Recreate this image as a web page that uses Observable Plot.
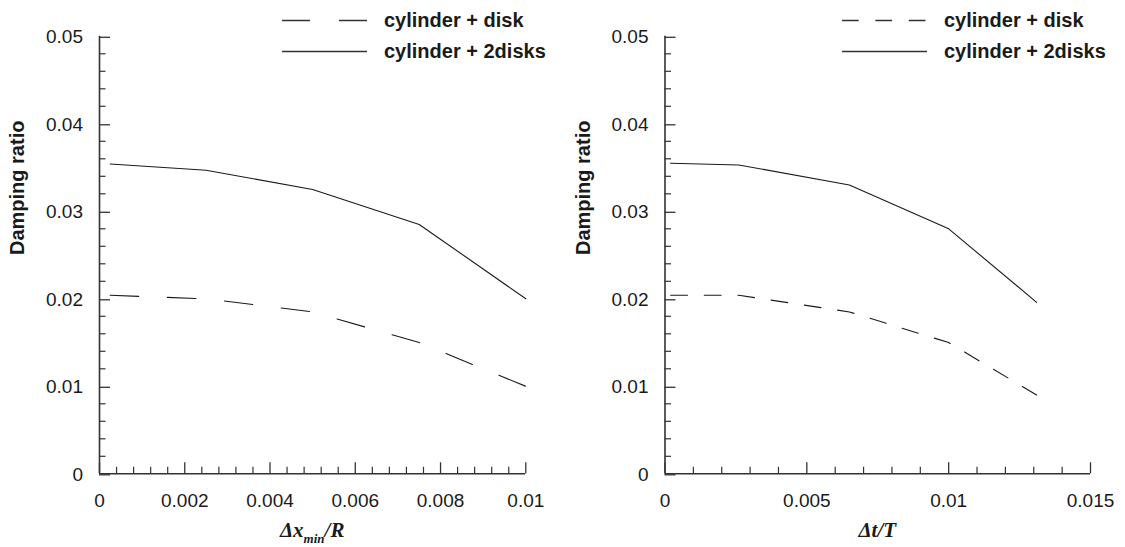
<!DOCTYPE html>
<html><head><meta charset="utf-8">
<script src="https://cdn.jsdelivr.net/npm/d3@7"></script>
<script src="https://cdn.jsdelivr.net/npm/@observablehq/plot@0.6"></script>
<style>
body{margin:0;background:#fff;}
#wrap{display:flex;width:1125px;height:547px;overflow:hidden;}
</style></head><body><div id="wrap"></div>
<script>
// ---- Data ----
const seriesNames = ["cylinder + disk", "cylinder + 2disks"];
const yLabel = "Damping ratio";

// Left panel: grid resolution Δx_min/R
const gridX      = [0.00025, 0.0025, 0.005, 0.0075, 0.01];
const gridDisk   = [0.0204, 0.0200, 0.0185, 0.0150, 0.0100];
const grid2Disks = [0.0354, 0.0347, 0.0325, 0.0285, 0.0200];

// Right panel: time step Δt/T
const stepX      = [0.0002, 0.0026, 0.0065, 0.0100, 0.0131];
const stepDisk   = [0.0204, 0.0204, 0.0185, 0.0150, 0.0090];
const step2Disks = [0.0355, 0.0353, 0.0330, 0.0280, 0.0196];

// Tick values
const yMajor = [0, 0.01, 0.02, 0.03, 0.04, 0.05];
const leftXMajor = [0, 0.002, 0.004, 0.006, 0.008, 0.01];
const rightXMajor = [0, 0.005, 0.01, 0.015];

const yMinor = d3.range(0, 26).map(i => i * 0.002).filter(v => !yMajor.some(m => Math.abs(m - v) < 1e-9));
const leftXMinor = d3.range(0, 26).map(i => i * 0.0004).filter(v => !leftXMajor.some(m => Math.abs(m - v) < 1e-9));
const rightXMinor = d3.range(0, 16).map(i => i * 0.001).filter(v => !rightXMajor.some(m => Math.abs(m - v) < 1e-9));

const SANS = "'Liberation Sans', Arial, Helvetica, sans-serif";
const SERIF = "'Liberation Serif', 'Times New Roman', serif";
const INK = "#1a1a1a";
const AXIS = "#333";

function panel({width, marginLeft, marginRight, xs, disk, two, xDomain, xMajor, xMinor, dash, legendDash, titleParts}) {
  const rowsDisk = xs.map((x, i) => ({x, y: disk[i]}));
  const rowsTwo = xs.map((x, i) => ({x, y: two[i]}));
  const chart = Plot.plot({
    width, height: 547,
    marginTop: 35.8, marginBottom: 73.7, marginLeft, marginRight,
    x: {domain: xDomain},
    y: {domain: [0, 0.05]},
    style: {fontFamily: SANS, fontSize: "19px", color: INK, background: "white", overflow: "visible"},
    marks: [
      Plot.axisY(yMinor, {tickSize: -6.5, tickFormat: () => "", label: null, stroke: AXIS, strokeWidth: 1.2}),
      Plot.axisY(yMajor, {tickSize: -11, tickPadding: 27.5, tickFormat: d => String(d), label: null, stroke: AXIS, strokeWidth: 1.3, fill: INK, fontSize: 19, dy: 1}),
      Plot.axisX(xMinor, {tickSize: -6.5, tickFormat: () => "", label: null, stroke: AXIS, strokeWidth: 1.2}),
      Plot.axisX(xMajor, {tickSize: -11, tickPadding: 30.4, tickFormat: d => String(d), label: null, stroke: AXIS, strokeWidth: 1.3, fill: INK, fontSize: 19}),
      Plot.ruleX([0], {stroke: AXIS, strokeWidth: 1.6}),
      Plot.ruleY([0], {stroke: AXIS, strokeWidth: 1.6}),
      Plot.line(rowsDisk, {x: "x", y: "y", stroke: INK, strokeWidth: 1.1, strokeDasharray: dash}),
      Plot.line(rowsTwo, {x: "x", y: "y", stroke: INK, strokeWidth: 1.1}),
      Plot.text([yLabel], {frameAnchor: "left", dx: -89.5, rotate: -90, lineAnchor: "top", fontSize: 20, fontWeight: "bold", fill: INK})
    ]
  });

  const svg = d3.select(chart.tagName.toLowerCase() === "svg" ? chart : chart.querySelector("svg"));
  const xr = chart.scale("x").range;
  const y0 = chart.scale("y").range[0];

  // x-axis title with subscript
  const t = svg.append("text")
    .attr("x", (xr[0] + xr[1]) / 2)
    .attr("y", y0 + 63.4)
    .attr("text-anchor", "middle")
    .attr("font-family", SERIF)
    .attr("font-style", "italic")
    .attr("font-weight", "bold")
    .attr("font-size", 21)
    .attr("fill", INK);
  titleParts.forEach(p => {
    const ts = t.append("tspan").text(p.text);
    if (p.sub) ts.attr("font-size", 13).attr("dy", 6.6);
    if (p.after) ts.attr("dy", -6.6);
  });

  // legend
  const lg = svg.append("g").attr("text-anchor", "start");
  const items = [{name: seriesNames[0], dash: legendDash, y: 20.5}, {name: seriesNames[1], dash: null, y: 51.5}];
  items.forEach(it => {
    lg.append("line").attr("x1", 282).attr("x2", 367).attr("y1", it.y).attr("y2", it.y)
      .attr("stroke", AXIS).attr("stroke-width", 1.4)
      .attr("stroke-dasharray", it.dash);
    lg.append("text").attr("x", 384).attr("y", it.y + 6.6)
      .attr("text-anchor", "start")
      .attr("font-family", SANS).attr("font-weight", "bold").attr("font-size", 20)
      .attr("fill", INK).text(it.name);
  });
  return chart;
}

const wrap = document.getElementById("wrap");
wrap.append(panel({
  width: 560, marginLeft: 99, marginRight: 34.7,
  xs: gridX, disk: gridDisk, two: grid2Disks,
  xDomain: [0, 0.01], xMajor: leftXMajor, xMinor: leftXMinor,
  dash: "28.6,28.6", legendDash: "28,29",
  titleParts: [{text: "Δx"}, {text: "min", sub: true}, {text: "/R", after: true}]
}));
wrap.append(panel({
  width: 565, marginLeft: 104.5, marginRight: 35,
  xs: stepX, disk: stepDisk, two: step2Disks,
  xDomain: [0, 0.015], xMajor: rightXMajor, xMinor: rightXMinor,
  dash: "16.8,16.8", legendDash: "16.7,16.7",
  titleParts: [{text: "Δt/T"}]
}));
</script></body></html>
